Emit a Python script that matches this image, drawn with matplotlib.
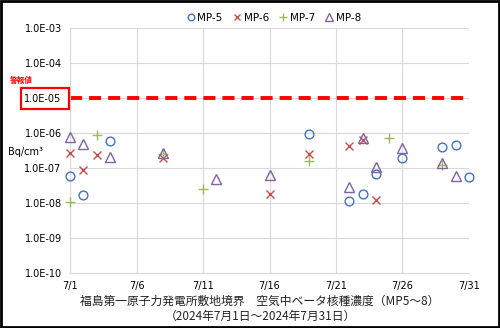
import matplotlib
matplotlib.use("Agg")
import math
import matplotlib.pyplot as plt
from matplotlib.ticker import FixedLocator, FuncFormatter, NullLocator
import matplotlib.patches as mpatches

plt.rcParams['font.family'] = ['Noto Sans CJK JP', 'DejaVu Sans']

# Data (day of July, value in Bq/cm3)
mp5_days = [1, 2, 4, 19, 22, 23, 24, 26, 29, 30, 31]
mp5_vals = [6e-8, 1.7e-8, 5.8e-7, 9.3e-7, 1.17e-8, 1.8e-8, 6.7e-8, 1.9e-7, 4.0e-7, 4.4e-7, 5.4e-8]
mp6_days = [1, 2, 3, 8, 16, 19, 22, 23, 24]
mp6_vals = [2.7e-7, 8.5e-8, 2.3e-7, 1.9e-7, 1.85e-8, 2.5e-7, 4.3e-7, 6.5e-7, 1.25e-8]
mp7_days = [1, 3, 8, 11, 19, 25, 29]
mp7_vals = [1.1e-8, 8.5e-7, 2.5e-7, 2.5e-8, 1.55e-7, 7.2e-7, 1.2e-7]
mp8_days = [1, 2, 4, 8, 12, 16, 22, 23, 24, 26, 29, 30]
mp8_vals = [7.7e-7, 4.7e-7, 2.1e-7, 2.7e-7, 4.9e-8, 6.4e-8, 2.8e-8, 7.2e-7, 1.04e-7, 3.7e-7, 1.4e-7, 6e-8]

alarm_value = 1e-5
x_ticks = [1, 6, 11, 16, 21, 26, 31]
x_labels = ['7/1', '7/6', '7/11', '7/16', '7/21', '7/26', '7/31']
y_ticks = [1e-10, 1e-9, 1e-8, 1e-7, 1e-6, 1e-5, 1e-4, 1e-3]
title1 = '福島第一原子力発電所敷地境界　空気中ベータ核種濃度（MP5～8）'
title2 = '（2024年7月1日～2024年7月31日）'

fig = plt.figure(figsize=(5.0, 3.28), dpi=100)
ax = fig.add_axes([0.14, 0.1677, 0.798, 0.747])

ms = 6.3
kw = dict(linestyle='none', clip_on=False, zorder=3)
ax.plot(mp5_days, mp5_vals, marker='o', ms=ms, mfc='none', mec='#4472C4', mew=1.0, label='MP-5', **kw)
ax.plot(mp6_days, mp6_vals, marker='x', ms=ms, mec='#C0504D', mew=1.0, label='MP-6', **kw)
ax.plot(mp7_days, mp7_vals, marker='+', ms=ms + 1, mec='#9BBB59', mew=1.0, label='MP-7', **kw)
ax.plot(mp8_days, mp8_vals, marker='^', ms=ms + 0.7, mfc='none', mec='#8064A2', mew=1.0, label='MP-8', **kw)

ax.axhline(alarm_value, color='#FF0000', lw=2.8, dashes=(3.1, 1.8), zorder=1)

ax.set_yscale('log')
ax.set_ylim(1e-10, 1e-3)
ax.set_xlim(1, 31)
ax.yaxis.set_major_locator(FixedLocator(y_ticks))
ax.yaxis.set_minor_locator(NullLocator())
ax.yaxis.set_major_formatter(FuncFormatter(lambda v, p: '1.0E-%02d' % round(-math.log10(v))))
ax.set_xticks(x_ticks)
ax.set_xticklabels(x_labels)
ax.tick_params(axis='both', length=0, labelsize=7, colors='#000000', pad=6)
for lab in ax.get_yticklabels() + ax.get_xticklabels():
    lab.set_family(['DejaVu Sans'])
ax.grid(True, color='#D9D9D9', lw=0.8)
ax.set_axisbelow(True)
for s in ['top', 'right']:
    ax.spines[s].set_visible(False)
for s in ['left', 'bottom']:
    ax.spines[s].set_color('#D9D9D9')
    ax.spines[s].set_linewidth(0.8)

# alarm label and box
fig.text(0.02, 1 - 80 / 328, '警報値', color='#FF0000', fontsize=5.5, fontweight='bold', va='center', ha='left')
fig.patches.append(mpatches.Rectangle((21 / 500, 1 - 109 / 328), 48 / 500, 21 / 328,
                                      transform=fig.transFigure, fill=False, ec='#FF0000', lw=1.6))

fig.text(0.016, 1 - 152 / 328, 'Bq/cm³', fontsize=7, va='center', ha='left', family=['DejaVu Sans'])

leg = ax.legend(loc='lower center', bbox_to_anchor=(0.51, 1.0), ncol=4, frameon=False,
                fontsize=7.5, handletextpad=0.1, columnspacing=0.9, handlelength=1.0,
                borderaxespad=0.1, markerscale=0.75)
for t in leg.get_texts():
    t.set_family(['DejaVu Sans'])

fig.text(0.52, 1 - 301 / 328, title1, fontsize=8.5, ha='center', va='center', color='#222222')
fig.text(0.52, 1 - 316 / 328, title2, fontsize=8.5, ha='center', va='center', color='#222222')

fig.patches.append(mpatches.Rectangle((0.002, 0.003), 0.996, 0.994, transform=fig.transFigure,
                                      fill=False, ec='black', lw=2))

fig.savefig('out.png', dpi=100)
